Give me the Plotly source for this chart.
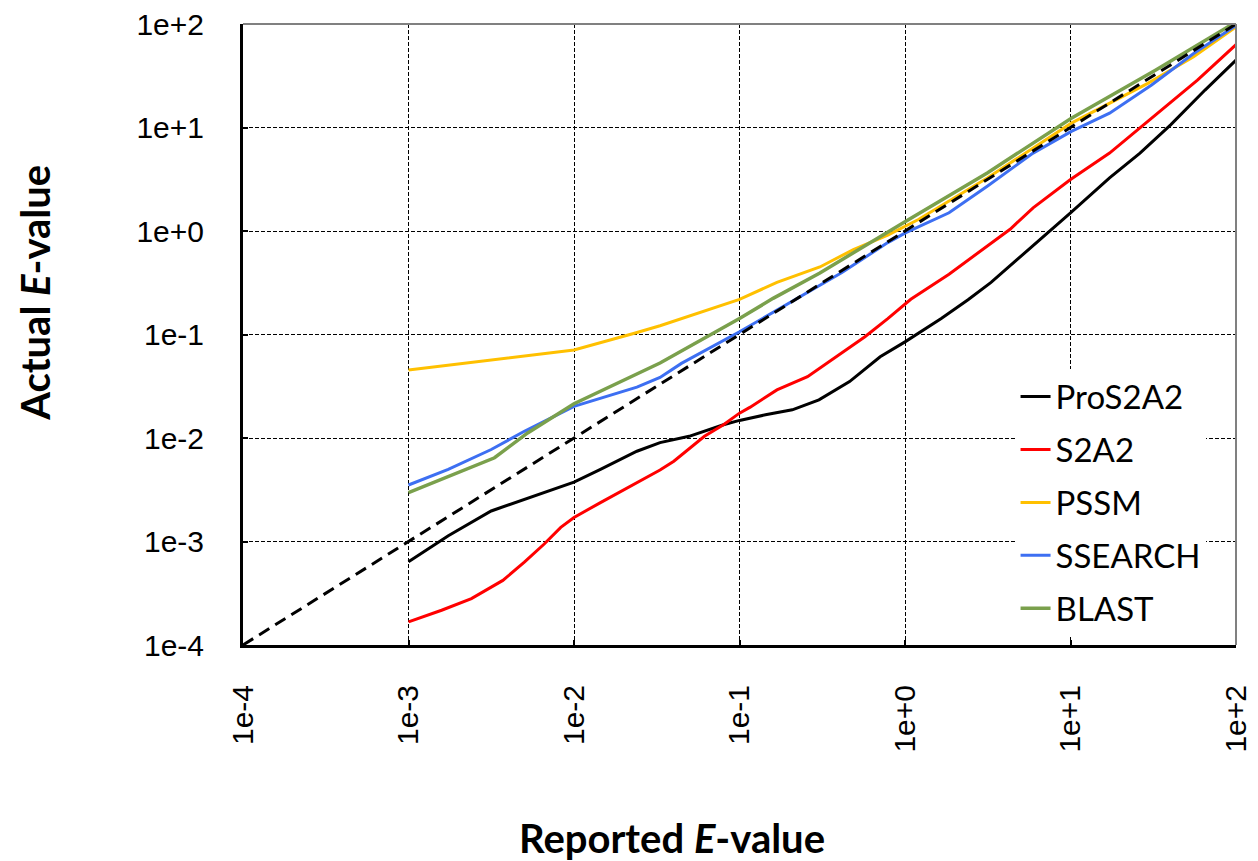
import plotly.graph_objects as go

# Reported E-value (x) and Actual E-value (y) per method
pro_x = [0.001, 0.00174, 0.00316, 0.00575, 0.01, 0.01445, 0.024, 0.0331, 0.0496, 0.08, 0.1,
         0.1435, 0.2084, 0.302, 0.4624, 0.708, 1.0, 1.656, 2.404, 3.311, 5.943, 10, 17.22,
         26.3, 40.27, 65.0, 100]
pro_y = [0.000637, 0.001135, 0.001972, 0.002748, 0.00375, 0.00497, 0.00745, 0.00902, 0.01038,
         0.01343, 0.01479, 0.01675, 0.01871, 0.02339, 0.03508, 0.06095, 0.0849, 0.1426,
         0.2163, 0.3184, 0.7178, 1.50, 3.258, 5.662, 10.62, 23.0, 44.7]

s2a2_x = [0.001, 0.001585, 0.0024, 0.003715, 0.005012, 0.006607, 0.008318, 0.01, 0.01445,
          0.024, 0.0331, 0.0401, 0.0614, 0.08, 0.1, 0.1161, 0.1683, 0.2576, 0.3741, 0.5728,
          0.787, 1.084, 1.845, 3.141, 4.315, 5.943, 10, 17.22, 32.58, 58.48, 100]
s2a2_y = [0.0001675, 0.0002168, 0.0002805, 0.0004207, 0.000631, 0.000946, 0.001368, 0.001706,
          0.002377, 0.003707, 0.004898, 0.00597, 0.01038, 0.01343, 0.01738, 0.01986, 0.02917,
          0.03917, 0.05875, 0.09506, 0.1426, 0.2188, 0.3828, 0.7178, 1.038, 1.675, 3.141,
          5.662, 13.24, 28.71, 63.1]

pssm_x = [0.001, 0.003162, 0.01, 0.0229, 0.0331, 0.1, 0.1683, 0.306, 0.4875, 0.787, 1.205,
          3.141, 5.943, 10.12, 29.31, 55.46, 100]
pssm_y = [0.0454, 0.0566, 0.0708, 0.1023, 0.1216, 0.2188, 0.3184, 0.449, 0.661, 0.912, 1.29,
          3.258, 6.324, 11.02, 26.67, 48.19, 93.5]

ssearch_x = [0.001, 0.001738, 0.003162, 0.005012, 0.01, 0.01585, 0.024, 0.0331, 0.04457, 0.1,
             0.1875, 0.4159, 0.787, 1.012, 1.845, 3.141, 5.943, 10.12, 17.22, 30.9, 55.46, 100]
ssearch_y = [0.003516, 0.004977, 0.007745, 0.01161, 0.02018, 0.02518, 0.03097, 0.03846, 0.0526,
             0.1062, 0.1905, 0.3972, 0.7727, 0.9638, 1.4997, 2.71, 5.662, 9.162, 13.74, 25.7,
             51.88, 96.6]

blast_x = [0.001, 0.003311, 0.005248, 0.01, 0.0331, 0.1, 0.1596, 0.306, 1.0, 3.141, 10.12,
           32.58, 100]
blast_y = [0.002972, 0.006442, 0.0112, 0.02143, 0.05309, 0.1426, 0.2234, 0.393, 1.23, 3.639,
           12.3, 35.81, 104.5]

diag_x = [0.0001, 100]
diag_y = [0.0001, 100]

tick_vals = [1e-4, 1e-3, 1e-2, 1e-1, 1e0, 1e1, 1e2]
tick_text = ["1e-4", "1e-3", "1e-2", "1e-1", "1e+0", "1e+1", "1e+2"]

series = [
    ("ProS2A2", pro_x, pro_y, "#000000", 3),
    ("S2A2", s2a2_x, s2a2_y, "#FF0000", 3),
    ("PSSM", pssm_x, pssm_y, "#FFC000", 3),
    ("SSEARCH", ssearch_x, ssearch_y, "#3D6FF2", 3),
    ("BLAST", blast_x, blast_y, "#7AA04C", 3.5),
]

fig = go.Figure()
for name, xs, ys, color, w in series:
    fig.add_trace(go.Scatter(x=xs, y=ys, mode="lines", name=name, legendgroup=name,
                             line=dict(color=color, width=w)))
fig.add_trace(go.Scatter(x=diag_x, y=diag_y, mode="lines", showlegend=False,
                         legendgroup="diag",
                         line=dict(color="#000000", width=3, dash="12px,7px")))

axis_common = dict(
    type="log",
    tickvals=tick_vals,
    ticktext=tick_text,
    showgrid=True,
    gridcolor="#000000",
    gridwidth=1,
    griddash="4px,2px",
    showline=True,
    linecolor="#000000",
    linewidth=3,
    ticks="inside",
    ticklen=5,
    tickwidth=1.5,
    tickcolor="#000000",
    zeroline=False,
    automargin=False,
    ticklabeloverflow="allow",
    tickfont=dict(family="Liberation Sans, Arial", size=30, color="#000000"),
)

fig.update_xaxes(range=[-4, 2], tickangle=-90, ticklabelstandoff=25, **axis_common)
fig.update_yaxes(range=[-4, 2], ticklabelstandoff=30, **axis_common)

# top and right frame lines (thin gray)
fig.add_shape(type="line", xref="paper", yref="paper", x0=0, x1=1, y0=1, y1=1,
              line=dict(color="#808080", width=2))
fig.add_shape(type="line", xref="paper", yref="paper", x0=1, x1=1, y0=0, y1=1,
              line=dict(color="#808080", width=2))

fig.add_annotation(text="<b>Actual <i>E</i>-value</b>", xref="paper", yref="paper",
                   x=-0.2095, y=0.567, textangle=-90, showarrow=False,
                   xanchor="center", yanchor="middle",
                   font=dict(family="Lato", size=40, color="#000000"))
fig.add_annotation(text="<b>Reported <i>E</i>-value</b>", xref="paper", yref="paper",
                   x=0.432, y=-0.3105, showarrow=False,
                   xanchor="center", yanchor="middle",
                   font=dict(family="Lato", size=40, color="#000000"))

fig.update_layout(
    width=1250,
    height=853,
    margin=dict(l=235, r=22, t=16, b=216, autoexpand=False),
    paper_bgcolor="#FFFFFF",
    plot_bgcolor="#FFFFFF",
    showlegend=True,
    legend=dict(
        x=0.778, y=0.445, xanchor="left", yanchor="top",
        bgcolor="#FFFFFF", borderwidth=0,
        font=dict(family="Lato", size=33, color="#000000"),
        tracegroupgap=7,
        traceorder="grouped",
    ),
)

fig.write_html("out.html")
